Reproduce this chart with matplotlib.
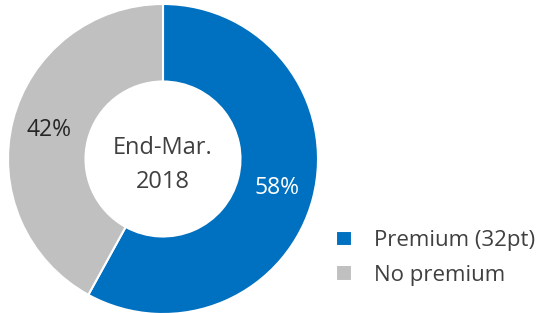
import matplotlib
matplotlib.use("Agg")
import matplotlib.pyplot as plt
import numpy as np

plt.rcParams['font.family'] = ['Open Sans', 'DejaVu Sans']

labels = ["Premium (32pt)", "No premium"]
values = [58, 42]
pct_labels = ["58%", "42%"]
colors = ["#0070C0", "#C0C0C0"]
center_text = "End-Mar.\n2018"

fig = plt.figure(figsize=(5.48, 3.13), dpi=100)
ax = fig.add_axes([8 / 548, -1 / 313, 310 / 548, 310 / 313])

wedges, _ = ax.pie(values, colors=colors, startangle=90, counterclock=False,
                   radius=1.0, wedgeprops=dict(width=0.5, edgecolor="white", linewidth=1.5))
ax.set_xlim(-1, 1)
ax.set_ylim(-1, 1)
ax.set_aspect("equal")

# percentage labels inside the ring
for w, t, c in zip(wedges, pct_labels, ["white", "#262626"]):
    mid = np.deg2rad((w.theta1 + w.theta2) / 2)
    ax.text(0.76 * np.cos(mid), 0.76 * np.sin(mid), t, ha="center", va="center",
            fontsize=16.5, color=c)

ax.text(0, -0.04, center_text, ha="center", va="center", fontsize=17,
        color="#404040", linespacing=1.55)

fig.legend(wedges, labels, loc="center left", bbox_to_anchor=(336 / 548, (313 - 258) / 313),
           frameon=False, fontsize=16, handlelength=0.72, handleheight=0.72,
           borderpad=0, borderaxespad=0,
           labelcolor="#404040", labelspacing=0.6, handletextpad=1.0)

fig.savefig("out.png", dpi=100)
